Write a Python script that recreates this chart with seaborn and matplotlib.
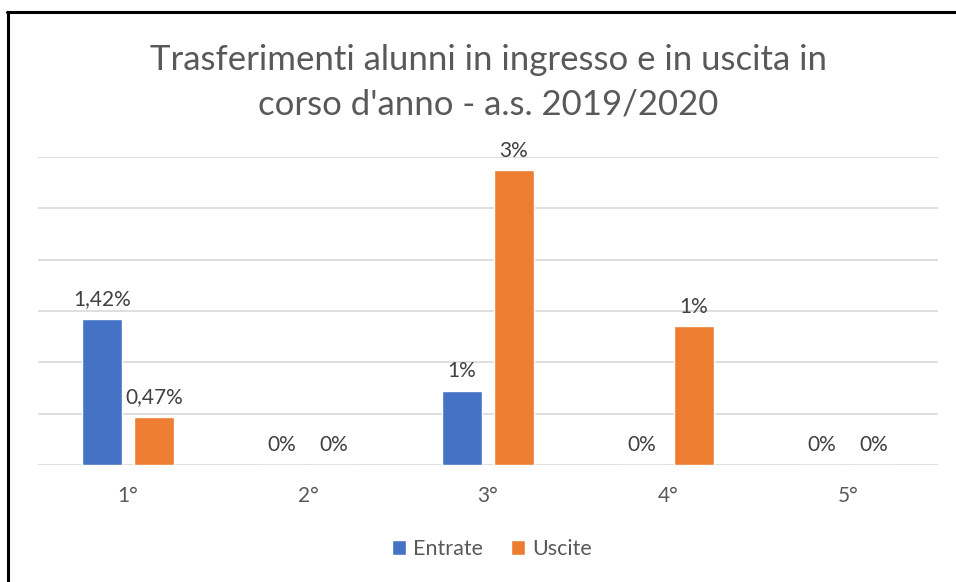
import matplotlib
matplotlib.use("Agg")
import matplotlib.pyplot as plt
import seaborn as sns
import pandas as pd
from matplotlib.lines import Line2D

# data (percent)
classi = ["1°", "2°", "3°", "4°", "5°"]
entrate = [1.42, 0.0, 0.72, 0.0, 0.0]
uscite = [0.47, 0.0, 2.87, 1.35, 0.0]
etichette_entrate = ["1,42%", "0%", "1%", "0%", "0%"]
etichette_uscite = ["0,47%", "0%", "3%", "1%", "0%"]
serie = ["Entrate", "Uscite"]

df = pd.DataFrame({
    "classe": classi * 2,
    "valore": entrate + uscite,
    "serie": [serie[0]] * len(classi) + [serie[1]] * len(classi),
})

sns.set_theme(style="white")
plt.rcParams["font.family"] = ["Lato", "DejaVu Sans"]

grigio = "#595959"
fig = plt.figure(figsize=(9.56, 5.82), dpi=100)
ax = fig.add_axes([38 / 956, 1 - 465 / 582, 900 / 956, 308 / 582])

sns.barplot(data=df, x="classe", y="valore", hue="serie",
            palette=["#4472C4", "#ED7D31"], width=0.578, gap=0.23,
            saturation=1, ax=ax)

ax.set_ylim(0, 3)
ax.set_xlim(-0.5, 4.5)
ax.set_yticks([0, 0.5, 1, 1.5, 2, 2.5, 3])
ax.yaxis.grid(True, color="#D9D9D9", linewidth=1.2)
ax.set_axisbelow(True)
ax.set_yticklabels([])
ax.tick_params(axis="y", length=0)
ax.tick_params(axis="x", length=0, pad=15, labelsize=15, labelcolor=grigio)
ax.set_xlabel("")
ax.set_ylabel("")
for s in ax.spines.values():
    s.set_visible(False)

for cont, lab in zip(ax.containers, [etichette_entrate, etichette_uscite]):
    ax.bar_label(cont, labels=lab, padding=7, fontsize=15, color="#404040")

handles, labels = ax.get_legend_handles_labels()
ax.get_legend().remove()
fig.legend(handles, labels, loc="center", bbox_to_anchor=(492 / 956, 1 - 549 / 582),
           ncol=2, frameon=False, fontsize=15.5, labelcolor=grigio,
           handlelength=0.65, handleheight=0.65, handletextpad=0.35, columnspacing=1.3)

fig.text(488 / 956, 1 - 82 / 582,
         "Trasferimenti alunni in ingresso e in uscita in\ncorso d'anno - a.s. 2019/2020",
         ha="center", va="center", fontsize=25, color=grigio, linespacing=1.48)

# bordo nero del grafico
fig.add_artist(Line2D([8 / 956, 8 / 956], [0, 1 - 12 / 582], color="black", linewidth=2.2))
fig.add_artist(Line2D([7 / 956, 1], [1 - 12 / 582, 1 - 12 / 582], color="black", linewidth=2.2))

fig.savefig("out.png", dpi=100)
